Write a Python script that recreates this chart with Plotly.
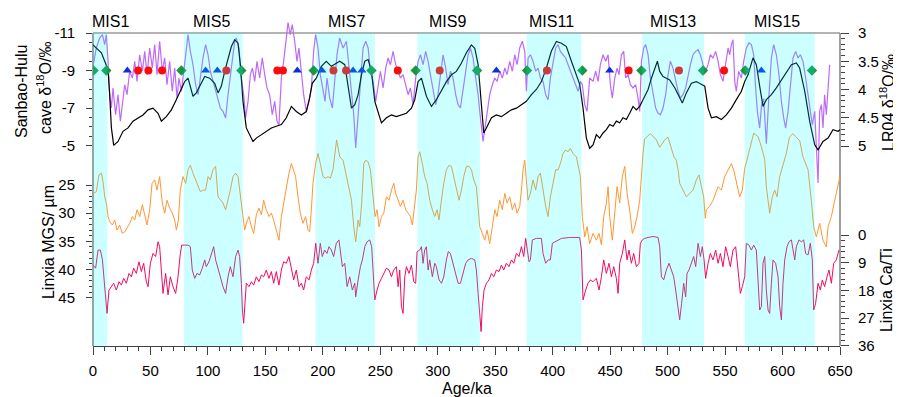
import plotly.graph_objects as go

# ---------------- data ----------------
# LR04 benthic d18O (per mil)
lr04_age = [0.0, 2.9, 7.3, 10.2, 13.1, 14.5, 16.0, 18.0, 21.8, 26.1,
            30.5, 34.8, 39.2, 43.5, 47.9, 52.2, 56.6, 59.5, 63.8, 68.2,
            72.5, 76.9, 79.8, 82.7, 87.0, 89.9, 94.3, 97.2, 101.5, 105.9,
            108.8, 111.7, 114.6, 117.5, 120.4, 123.3, 126.2, 128.2, 130.5, 133.4,
            136.3, 139.2, 142.1, 146.5, 150.8, 155.2, 159.5, 163.9, 168.2, 172.6,
            176.9, 181.3, 185.6, 188.5, 190.8, 194.3, 198.7, 203.0, 207.4, 211.7,
            214.7, 219.1, 222.0, 224.9, 227.8, 230.7, 233.6, 236.5, 239.4, 242.3,
            245.2, 248.1, 251.0, 255.3, 259.7, 264.0, 268.4, 272.7, 277.1, 280.0,
            282.9, 285.8, 290.1, 294.5, 298.8, 303.2, 307.5, 311.9, 316.2, 320.6,
            324.9, 329.3, 332.2, 335.1, 338.0, 340.0, 342.3, 346.7, 351.0, 355.4,
            359.7, 364.1, 368.4, 372.8, 377.1, 381.5, 385.8, 390.2, 394.5, 398.9,
            403.2, 407.6, 411.9, 416.3, 420.6, 423.5, 426.4, 429.3,
            432.2, 435.1, 438.0, 440.9, 443.8, 446.7, 449.6, 452.5, 455.4, 458.3,
            461.2, 464.1, 467.0, 469.9, 472.8, 475.7, 478.6, 483.0, 485.9, 488.8,
            491.1, 493.1, 496.0, 498.9, 501.8, 506.2, 509.1, 512.8, 516.3, 520.7,
            525.0, 529.4, 532.3, 535.2, 538.1, 542.4, 546.8, 551.1, 555.5, 559.8,
            564.2, 567.1, 570.0, 574.3, 577.2, 580.1, 583.0, 585.9, 590.3, 594.6,
            599.0, 603.3, 607.7, 612.0, 614.9, 619.3, 623.6, 628.0, 630.9, 635.2,
            639.6, 643.9, 648.3, 650.0]
lr04_val = [3.21, 3.27, 3.35, 3.50, 3.65, 4.09, 4.68, 4.99, 4.92, 4.74,
            4.68, 4.56, 4.50, 4.45, 4.36, 4.33, 4.42, 4.56, 4.48, 4.36,
            4.18, 3.97, 3.86, 3.80, 4.12, 4.06, 3.89, 3.77, 3.80, 3.89,
            4.06, 3.94, 3.68, 3.44, 3.24, 3.12, 3.18, 3.56, 4.21, 4.68,
            4.80, 4.92, 4.86, 4.80, 4.74, 4.68, 4.65, 4.62, 4.50, 4.30,
            4.39, 4.45, 4.39, 4.15, 3.89, 3.80, 3.59, 3.50, 3.59, 3.53,
            3.50, 3.56, 3.97, 4.33, 4.27, 4.09, 3.74, 3.50, 3.47, 3.68,
            4.21, 4.39, 4.59, 4.50, 4.45, 4.48, 4.45, 4.42, 4.33, 4.18,
            3.86, 3.80, 4.12, 4.30, 4.18, 4.03, 3.86, 3.74, 3.68, 3.53,
            3.35, 3.21, 3.27, 3.56, 4.27, 4.77, 4.68, 4.50, 4.45, 4.48,
            4.42, 4.36, 4.33, 4.27, 4.21, 4.09, 4.00, 3.86, 3.62, 3.32,
            3.15, 3.18, 3.24, 3.50, 3.77, 3.91, 4.33, 4.86,
            5.04, 4.98, 4.80, 4.86, 4.77, 4.71, 4.62, 4.65, 4.56, 4.59,
            4.50, 4.53, 4.42, 4.30, 4.36, 4.30, 4.18, 4.00, 3.80, 3.62,
            3.50, 3.68, 3.77, 3.80, 3.83, 3.97, 4.09, 4.24, 4.06, 3.89,
            3.86, 3.91, 3.94, 4.33, 4.50, 4.48, 4.53, 4.45, 4.33, 4.18,
            4.03, 3.86, 3.74, 3.44, 3.56, 3.94, 4.30, 4.18, 4.09, 3.97,
            3.83, 3.71, 3.56, 3.53, 3.62, 4.03, 4.56, 4.98, 5.07, 4.92,
            4.86, 4.71, 4.74, 4.71]

# Sanbao-Hulu cave d18O (per mil)
cave_age = [0.3, 2.9, 5.8, 8.2, 10.2, 11.6, 13.1, 14.5, 16.0, 17.4,
            19.7, 21.8, 23.8, 25.6, 27.6, 29.6, 31.9, 34.3, 36.3, 38.3,
            40.6, 43.0, 45.0, 47.0, 49.3, 51.6, 53.7, 55.7, 58.0, 60.3,
            62.4, 64.4, 66.7, 69.0, 71.1, 73.1, 74.8, 76.9, 78.9, 81.2,
            82.7, 84.7, 87.0, 89.3, 91.4, 93.4, 95.7, 98.0, 100.1, 102.1,
            104.4, 106.7, 108.8, 110.8, 113.1, 115.4, 117.5, 119.5, 121.3, 123.3,
            124.7, 127.0, 129.1, 131.1, 132.8, 134.9, 136.9, 138.7, 140.7, 142.7,
            145.0, 147.3, 149.4, 151.4, 153.7, 156.0, 158.1, 160.1, 161.8, 163.9,
            165.9, 167.6, 169.7, 171.7, 173.4, 175.5, 177.5, 179.2, 181.3, 183.3,
            185.6, 187.9, 190.0, 192.0, 193.7, 195.8, 197.8, 200.1, 201.9, 203.6,
            206.0, 208.3, 210.3, 212.3, 214.6, 217.6, 220.5, 222.8, 224.9, 226.9,
            228.6, 230.7, 232.7, 235.0, 237.3, 239.4, 241.4, 243.7, 246.0, 248.1,
            250.1, 252.4, 254.7, 256.8, 258.8, 261.1, 263.4, 265.5, 267.5, 269.8,
            272.1, 274.2, 276.2, 278.5, 280.8, 282.9, 284.9, 287.2, 289.5, 291.6,
            293.6, 295.9, 298.2, 300.2, 302.3, 304.6, 306.9, 308.9, 311.0, 313.3,
            315.6, 317.7, 319.7, 322.0, 324.3, 326.4, 328.4, 330.7, 333.0, 335.1,
            336.5, 338.0, 339.4, 341.1, 342.9, 345.2, 347.5, 349.6, 351.6, 353.9,
            356.2, 358.3, 360.3, 362.6, 364.9, 367.0, 369.0, 371.3, 373.6, 375.7,
            377.1, 378.6, 380.6, 382.9, 385.2, 387.3, 389.3, 391.6, 393.9, 396.0,
            398.0, 400.3, 402.6, 404.7, 406.7, 409.0, 411.3, 413.4, 415.4, 417.7,
            420.0, 422.1, 424.1, 425.8, 427.9, 429.9, 432.2, 435.1, 437.4, 439.5,
            441.5, 443.8, 446.1, 448.2, 450.2, 451.9, 454.0, 456.0, 457.7, 459.8,
            461.8, 463.5, 465.6, 467.6, 469.9, 472.2, 474.2, 475.7, 477.2, 479.2,
            480.9, 483.0, 485.0, 487.3, 489.6, 491.6, 493.7, 496.0, 498.3, 500.4,
            502.4, 504.7, 507.0, 509.1, 511.1, 513.4, 515.7, 517.8, 519.8, 522.1,
            524.4, 526.5, 528.5, 530.8, 533.1, 535.2, 537.2, 539.5, 541.8, 543.9,
            545.9, 548.2, 550.5, 552.6, 554.0, 555.5, 556.9, 558.4, 559.8, 561.8,
            564.2, 566.2, 568.5, 570.8, 572.9, 574.9, 576.6, 578.1, 580.1, 581.8,
            583.6, 585.9, 588.2, 590.3, 592.3, 594.6, 596.9, 599.0, 601.0, 602.7,
            604.8, 606.8, 609.1, 611.4, 613.5, 615.5, 617.8, 620.1, 622.2, 624.2,
            625.9, 628.0, 629.4, 630.9, 632.3, 633.8, 635.2, 636.6, 638.1, 639.6,
            641.0]
cave_val = [-9.31, -10.20, -10.73, -10.91, -10.38, -10.91, -9.49, -7.71, -7.00, -8.07,
            -6.64, -7.71, -6.29, -7.35, -8.24, -7.71, -8.96, -8.60, -9.49, -8.42,
            -9.84, -8.96, -10.02, -8.78, -10.20, -9.13, -10.38, -8.78, -10.56, -8.96,
            -9.67, -8.24, -9.49, -7.89, -9.13, -7.53, -8.60, -7.89, -8.96, -10.20,
            -10.91, -10.02, -9.31, -8.24, -7.71, -8.60, -9.67, -10.38, -9.84, -8.96,
            -8.42, -7.89, -7.35, -7.00, -6.82, -6.47, -7.71, -8.78, -9.67, -10.56,
            -10.73, -10.20, -8.60, -7.71, -6.47, -7.35, -8.78, -9.13, -8.42, -9.49,
            -8.60, -9.67, -8.78, -8.07, -7.71, -6.64, -7.35, -6.29, -6.11, -8.60,
            -9.49, -10.56, -11.55, -10.91, -11.45, -10.56, -9.49, -10.20, -8.96, -7.71,
            -6.82, -7.35, -8.07, -10.02, -10.91, -10.20, -8.78, -8.07, -7.35, -8.60,
            -7.53, -7.00, -8.60, -9.84, -10.73, -10.20, -10.56, -9.13, -7.71, -6.64,
            -4.87, -6.82, -8.60, -10.20, -10.56, -10.20, -8.96, -8.42, -7.35, -8.24,
            -8.96, -8.07, -9.13, -9.67, -9.31, -10.02, -9.31, -8.96, -8.60, -8.78,
            -8.24, -7.71, -8.07, -7.18, -8.60, -9.49, -9.84, -9.31, -10.02, -9.49,
            -8.78, -8.07, -7.18, -7.71, -8.78, -9.84, -9.13, -8.24, -8.96, -8.60,
            -7.71, -7.18, -7.00, -8.07, -9.13, -9.84, -10.20, -9.67, -8.60, -7.71,
            -6.82, -6.11, -5.22, -5.93, -6.82, -7.71, -8.24, -8.60, -8.42, -8.96,
            -8.60, -9.13, -8.78, -9.49, -8.96, -9.84, -9.31, -10.20, -10.56, -10.02,
            -7.89, -9.67, -9.84, -9.49, -8.96, -9.13, -8.60, -8.42, -7.71, -7.44,
            -8.60, -9.49, -10.20, -10.38, -10.02, -9.84, -9.67, -9.31, -8.96, -8.60,
            -8.24, -7.89, -8.42, -8.24, -7.18, -6.82, -8.60, -8.42, -8.96, -8.42,
            -9.31, -9.84, -9.49, -9.84, -8.24, -7.53, -8.60, -9.13, -8.78, -9.84,
            -10.02, -8.60, -8.78, -8.24, -8.07, -8.24, -7.53, -6.82, -9.49, -10.20,
            -10.38, -9.84, -8.60, -7.71, -7.00, -6.73, -6.64, -7.00, -7.71, -8.78,
            -9.49, -9.13, -8.42, -7.89, -7.53, -7.71, -8.07, -8.78, -9.31, -9.84,
            -10.02, -10.11, -9.84, -9.31, -8.96, -9.31, -9.84, -9.67, -10.02, -9.49,
            -8.78, -8.42, -9.49, -10.20, -9.84, -10.38, -10.64, -8.42, -7.89, -8.96,
            -8.60, -9.49, -10.20, -10.47, -10.38, -9.84, -8.07, -6.82, -5.93, -7.18,
            -7.50, -5.10, -7.71, -9.67, -10.38, -9.84, -8.78, -7.35, -6.47, -5.93,
            -6.82, -8.24, -9.67, -10.02, -9.67, -9.84, -9.49, -8.60, -7.71, -7.00,
            -6.11, -6.82, -5.22, -3.00, -6.82, -7.18, -5.93, -7.71, -6.64, -8.07,
            -9.31]

# Linxia mean grain size (um)
mgs_age = [0.0, 2.9, 5.2, 7.3, 8.7, 10.2, 11.6, 13.1, 14.5, 16.9,
           18.9, 20.9, 23.2, 25.5, 27.6, 29.6, 31.9, 34.3, 36.3, 38.3,
           40.6, 43.0, 45.0, 47.0, 49.3, 51.4, 53.7, 55.7, 58.0, 60.3,
           62.4, 64.4, 66.7, 69.0, 71.1, 72.5, 74.3, 76.0, 78.3, 80.6,
           82.7, 84.7, 87.0, 89.3, 91.4, 93.4, 95.7, 98.0, 100.1, 102.1,
           104.4, 106.7, 108.8, 110.8, 113.1, 115.4, 117.5, 119.5, 121.8, 124.1,
           126.2, 128.2, 130.5, 132.0, 133.4, 135.7, 137.8, 139.8, 142.1, 144.4,
           146.5, 148.5, 150.8, 153.1, 155.2, 157.2, 159.5, 161.8, 163.9, 165.9,
           168.2, 170.5, 172.6, 174.6, 176.3, 178.4, 180.4, 182.7, 185.0, 187.1,
           188.5, 190.0, 191.4, 193.7, 195.8, 197.8, 200.1, 202.4, 204.5, 206.5,
           208.8, 212.0, 214.7, 217.6, 220.5, 222.8, 224.9, 226.9, 228.6, 230.7,
           232.1, 233.8, 235.6, 237.3, 239.4, 241.4, 243.7, 245.4, 247.2, 248.9,
           251.0, 253.0, 255.3, 257.6, 259.7, 261.7, 263.4, 265.5, 267.5, 269.8,
           272.1, 274.2, 276.2, 277.9, 280.0, 281.4, 282.9, 284.3, 286.6, 288.6,
           290.7, 293.0, 295.3, 297.4, 299.4, 301.1, 303.2, 305.2, 307.5, 309.8,
           311.9, 313.9, 316.2, 318.5, 320.6, 322.6, 324.9, 327.2, 329.3, 331.3,
           333.6, 335.1, 336.5, 338.8, 340.9, 342.9, 345.2, 347.5, 349.6, 351.6,
           353.9, 356.2, 358.3, 360.3, 362.6, 364.9, 367.0, 369.0, 371.3, 372.8,
           374.2, 375.7, 377.1, 378.5, 380.6, 382.9, 385.2, 387.3, 389.3, 391.6,
           393.9, 396.0, 398.0, 400.3, 402.6, 404.7, 406.7, 409.0, 411.3, 413.4,
           415.4, 417.7, 420.6, 422.9, 424.1, 425.8, 427.9, 429.9, 432.2, 435.1,
           438.0, 440.3, 442.4, 444.4, 446.7, 448.2, 449.6, 451.9, 454.0, 456.0,
           458.3, 460.6, 462.7, 464.7, 467.0, 469.3, 471.4, 473.4, 475.7, 477.2,
           478.6, 480.0, 482.5, 485.0, 488.0, 490.2, 493.1, 495.5, 497.4, 500.3,
           503.2, 505.5, 507.5, 509.1, 510.5, 513.4, 516.3, 519.2, 522.1, 525.0,
           527.3, 529.4, 531.4, 532.8, 533.7, 536.6, 539.5, 543.9, 546.8, 549.7,
           552.6, 555.5, 557.5, 559.8, 562.7, 565.0, 567.1, 568.5, 571.4, 574.9,
           578.7, 581.6, 584.5, 585.9, 588.8, 591.1, 593.2, 595.2, 597.5, 600.4,
           603.3, 606.0, 609.0, 612.0, 615.0, 617.8, 620.0, 622.2, 625.0, 627.1,
           629.4, 632.3, 635.2, 638.1, 639.6, 642.5, 645.4, 646.8, 648.3, 650.0]
mgs_val = [26.5, 26.2, 23.2, 22.9, 24.4, 27.1, 28.2, 30.6, 31.5, 32.1,
           31.2, 33.0, 32.1, 33.6, 33.3, 32.7, 31.8, 30.6, 31.2, 29.4,
           30.6, 28.5, 30.3, 32.1, 29.4, 24.7, 24.1, 25.9, 23.5, 28.2,
           30.0, 27.7, 29.1, 30.0, 31.2, 33.0, 31.2, 25.9, 23.5, 24.7,
           22.3, 21.5, 22.9, 24.1, 25.3, 26.2, 25.9, 25.9, 23.5, 24.1,
           22.3, 21.7, 27.1, 27.7, 28.2, 29.4, 27.7, 25.9, 23.5, 22.9,
           23.5, 27.1, 30.6, 33.0, 31.8, 30.6, 32.4, 33.6, 30.3, 29.1,
           30.3, 27.7, 29.4, 30.6, 30.0, 31.2, 33.0, 34.8, 30.6, 28.2,
           25.9, 22.9, 21.2, 22.3, 23.5, 27.1, 30.0, 31.8, 30.6, 33.0,
           33.3, 29.4, 24.7, 21.2, 19.4, 21.2, 23.5, 23.8, 23.5, 23.8,
           22.3, 17.0, 20.0, 20.6, 23.5, 25.9, 27.7, 32.4, 35.1, 31.2,
           32.4, 28.2, 21.2, 20.6, 20.9, 22.3, 27.7, 30.6, 29.4, 32.4,
           30.6, 30.0, 27.1, 27.7, 25.9, 24.7, 26.5, 27.7, 28.8, 27.7,
           29.4, 30.0, 30.6, 32.1, 28.8, 25.9, 20.0, 19.1, 21.2, 23.5,
           24.7, 27.7, 29.4, 30.6, 29.4, 31.2, 27.7, 24.7, 22.3, 21.5,
           21.7, 23.5, 25.9, 27.7, 25.9, 23.5, 21.7, 21.7, 22.3, 24.1,
           25.3, 28.8, 32.4, 33.6, 34.8, 33.0, 35.4, 32.4, 29.4, 30.6,
           27.7, 29.4, 26.5, 28.2, 27.1, 29.4, 28.2, 30.0, 28.8, 25.9,
           22.3, 20.6, 24.7, 27.7, 26.5, 24.1, 25.9, 23.5, 22.9, 25.9,
           28.8, 30.6, 27.1, 24.7, 22.3, 22.3, 21.2, 19.4, 18.8, 19.1,
           18.5, 19.4, 20.0, 22.3, 23.5, 30.6, 34.2, 32.4, 35.4, 33.6,
           34.8, 33.6, 35.6, 30.6, 28.2, 25.3, 30.6, 34.8, 29.4, 25.3,
           28.2, 23.5, 21.7, 26.5, 29.4, 33.6, 32.4, 30.6, 27.7, 22.3,
           19.4, 16.8, 16.3, 15.9, 16.5, 17.0, 18.3, 17.5, 17.0, 16.5,
           18.3, 20.0, 20.6, 22.3, 24.7, 25.9, 27.1, 26.5, 25.9, 24.1,
           23.2, 25.3, 27.1, 30.9, 29.4, 28.8, 27.7, 25.3, 25.9, 23.5,
           22.3, 21.2, 22.3, 24.7, 27.1, 25.9, 22.0, 21.0, 18.8, 15.8,
           16.4, 18.2, 20.5, 25.3, 30.0, 27.1, 25.9, 27.1, 23.5, 21.2,
           19.4, 16.5, 15.9, 16.5, 17.2, 20.0, 21.0, 22.3, 27.7, 32.4,
           34.2, 31.8, 34.8, 36.0, 32.4, 30.6, 27.7, 26.5, 24.7, 23.5]

# Linxia Ca/Ti
cati_age = [0.0, 2.3, 4.4, 6.4, 8.2, 10.2, 12.2, 13.9, 16.0, 18.0,
            20.3, 22.6, 24.7, 26.7, 29.0, 31.3, 33.4, 35.4, 37.7, 40.0,
            42.1, 44.1, 46.4, 47.9, 49.9, 52.2, 54.5, 56.6, 58.0, 59.5,
            60.9, 63.2, 65.3, 67.3, 69.6, 71.9, 74.0, 76.0, 77.2, 79.8,
            82.7, 84.7, 86.4, 88.5, 90.5, 92.8, 95.1, 97.2, 98.6, 100.9,
            103.0, 105.0, 106.7, 108.8, 110.8, 113.1, 115.4, 117.5, 119.5, 121.8,
            124.1, 126.2, 127.6, 129.1, 130.0, 131.1, 132.3, 133.4, 135.8, 137.8,
            139.8, 142.1, 144.4, 146.5, 148.5, 150.8, 153.1, 155.2, 157.2, 159.5,
            161.8, 163.9, 165.9, 168.2, 170.5, 172.6, 174.6, 176.9, 179.2, 181.3,
            183.3, 185.6, 188.0, 190.0, 192.0, 193.8, 195.8, 197.8, 199.5, 201.6,
            203.6, 205.3, 207.4, 209.4, 211.7, 214.0,
            217.0, 219.1, 221.1, 223.4, 225.7, 227.8, 228.6, 230.7, 232.7, 234.4,
            236.5, 238.5, 240.8, 242.5, 243.7, 245.2, 247.2, 248.9, 251.0, 253.0,
            255.3, 257.6, 259.7, 261.7, 264.0, 265.5, 266.9, 268.4, 269.8, 271.3,
            272.7, 275.0, 277.1, 279.1, 280.8, 282.0, 284.3, 285.8, 287.2, 288.6,
            290.1, 291.6, 293.0, 295.3, 297.4, 298.8, 301.1, 303.2, 305.2, 307.5,
            309.2, 311.0, 313.3, 315.6, 317.7, 319.7, 322.0, 324.3, 326.4, 329.3,
            332.2, 333.6, 335.1, 336.5, 337.7, 338.8, 340.3, 342.3, 344.6, 346.7,
            348.7, 351.0, 353.3, 355.4, 357.4, 359.7, 362.0, 364.1, 366.1, 368.4,
            370.7, 372.8, 374.8, 376.5, 377.7, 379.4, 380.6, 382.3, 385.8, 390.2,
            391.6, 393.9, 396.0, 398.0, 399.7, 401.8, 404.7, 407.6, 414.8, 423.5,
            425.0, 426.4, 428.7, 430.8, 432.8,
            435.1, 438.0, 440.3, 442.4, 444.4, 446.7, 449.0, 451.1, 453.1, 455.4,
            456.9, 458.3, 460.6, 462.7, 464.7, 466.4, 468.5, 470.5, 472.8, 475.1,
            476.3, 478.0, 480.1, 483.0, 487.3, 491.7, 493.1, 494.6, 496.6, 498.9,
            501.2, 503.3, 505.3, 507.0, 509.1, 510.5, 512.2, 514.0, 515.7, 516.9,
            518.6, 520.7, 522.7, 524.4, 526.5, 528.5, 530.2, 531.7, 533.1, 535.2,
            537.2, 539.5, 541.8, 543.9, 545.9, 548.2, 550.5, 552.6, 554.6, 556.9,
            559.2, 561.3, 563.3, 565.0, 567.1, 568.5, 570.8, 572.9, 574.9, 577.2,
            578.7, 580.1, 581.6, 583.0, 584.5, 585.9, 587.4, 588.8, 590.3, 591.7,
            594.0, 596.1, 597.5, 599.0, 600.4, 601.9, 603.9, 605.6, 607.7, 609.1,
            610.6, 612.0, 614.3, 616.4, 618.4, 620.1, 622.2, 624.2, 625.9, 627.1,
            628.8, 630.9, 632.9, 634.6, 636.6, 638.7, 640.4, 642.5, 644.5, 646.8,
            649.1]
cati_val = [9.8, 10.8, 4.9, 4.9, 8.1, 17.9, 25.5, 17.9, 16.8, 15.7,
            17.9, 15.2, 16.3, 14.1, 15.7, 12.5, 13.6, 10.8, 12.5, 8.7,
            11.9, 9.2, 15.2, 16.8, 9.2, 6.0, 7.0, 2.2, 3.8, 11.4,
            19.0, 12.5, 19.5, 13.6, 16.8, 19.0, 13.6, 6.0, 3.3, 3.3,
            3.3, 3.8, 11.4, 14.1, 12.5, 13.0, 10.8, 8.1, 10.3, 8.7,
            6.0, 3.8, 8.1, 11.4, 13.6, 16.8, 19.0, 13.6, 10.3, 13.6,
            7.0, 4.9, 7.0, 15.7, 24.4, 28.7, 21.1, 15.7, 16.8, 15.2,
            16.3, 13.6, 15.2, 13.0, 13.6, 11.4, 14.1, 11.9, 15.7, 11.9,
            16.3, 11.4, 8.7, 9.2, 7.0, 11.4, 14.6, 11.4, 16.8, 15.7,
            17.9, 13.6, 14.6, 11.4, 9.2, 2.7, 9.2, 2.7, 7.0, 4.9,
            6.0, 3.8, 4.9, 7.0, 2.7, 1.6,
            10.3, 9.2, 16.8, 13.6, 17.9, 15.7, 20.1, 14.6, 10.3, 8.1,
            3.8, 2.2, 1.6, 3.8, 13.6, 21.1, 17.9, 15.7, 14.1, 12.5,
            10.8, 11.4, 13.6, 11.4, 10.3, 16.8, 11.4, 23.3, 25.5, 13.6,
            10.3, 12.5, 9.8, 15.2, 15.7, 5.4, 4.9, 3.8, 9.2, 4.9,
            3.8, 11.4, 8.1, 13.6, 9.2, 10.3, 14.6, 15.7, 13.6, 8.1,
            5.4, 6.0, 9.2, 12.5, 15.7, 15.7, 12.5, 9.2, 8.1, 7.6,
            8.1, 11.4, 19.0, 25.5, 31.4, 23.3, 17.9, 15.7, 14.6, 12.5,
            13.6, 11.4, 11.9, 9.8, 11.4, 9.2, 10.3, 8.1, 9.2, 6.0,
            7.0, 3.8, 7.0, 1.1, 3.8, 8.7, 8.1, 1.6, 1.1, 1.1,
            6.0, 9.2, 8.1, 8.1, 2.7, 2.2, 1.6, 1.1, 0.8, 0.8,
            4.9, 21.1, 17.9, 15.7, 14.6,
            15.2, 14.1, 17.9, 13.6, 8.1, 12.5, 9.2, 13.6, 10.3, 14.1,
            19.0, 9.2, 6.0, 1.6, 8.1, 4.9, 9.2, 6.0, 10.3, 9.2,
            2.7, 1.6, 1.1, 0.8, 0.5, 0.8, 3.8, 13.6, 14.6, 11.4,
            9.2, 11.4, 13.6, 17.9, 24.4, 27.6, 22.2, 15.7, 20.1, 12.5,
            11.4, 9.2, 7.0, 10.3, 2.7, 7.0, 3.8, 8.1, 14.1, 9.2,
            6.0, 8.1, 4.9, 9.2, 6.0, 10.3, 3.8, 7.0, 10.3, 4.9,
            3.8, 11.4, 19.0, 16.8, 13.6, 2.7, 3.3, 4.9, 3.3, 4.9,
            13.6, 24.4, 23.3, 9.2, 7.0, 17.9, 24.4, 25.5, 15.7, 8.1,
            9.2, 13.6, 23.3, 27.6, 15.7, 8.1, 3.8, 2.2, 1.6, 4.9,
            8.1, 3.8, 1.6, 2.2, 1.6, 6.0, 6.5, 2.7, 8.1, 24.4,
            22.2, 15.7, 17.9, 14.6, 16.8, 13.6, 11.4, 15.7, 9.2, 8.1,
            4.9]

# event markers (age, ka) plotted at -9 on the cave axis
green_age = [0.5, 11.6, 76.9, 129.1, 192.0, 242.3, 280.8, 334.2, 377.7, 425.8,
             477.2, 530.8, 567.6, 625.6]
blue_age = [29.9, 98.0, 108.2, 177.8, 199.2, 226.3, 233.9, 351.0, 449.6, 581.6]
red_age = [39.2, 48.2, 60.1, 116.0, 160.4, 165.3, 209.2, 220.2, 265.2, 301.7,
           395.0, 466.1, 509.9, 549.1]
marker_level = -9

# interglacial bands
mis_labels = ["MIS1", "MIS5", "MIS7", "MIS9", "MIS11", "MIS13", "MIS15"]
mis_start = [0, 79, 193.7, 282.3, 377.3, 477.8, 567.1]
mis_end = [12.5, 130.2, 245.3, 336.6, 425.0, 531.8, 628.0]
mis_label_x = [15.4, 103, 220.7, 308.7, 399, 505, 595]

# ---------------- figure ----------------
FONT = "Liberation Sans, Arial, sans-serif"
AX = "#404040"

CAVE_RANGE = [5.693, -11.8]
LR_RANGE = [8.540, 2.7345]
MGS_RANGE = [53.571, -4.636]
CATI_RANGE = [36.1, -70.57]

fig = go.Figure()
fig.add_trace(go.Scatter(x=cave_age, y=cave_val, mode="lines",
                         line=dict(color="rgb(190,105,250)", width=1.2),
                         yaxis="y", showlegend=False))
fig.add_trace(go.Scatter(x=lr04_age, y=lr04_val, mode="lines",
                         line=dict(color="black", width=1.2),
                         yaxis="y2", showlegend=False))
fig.add_trace(go.Scatter(x=mgs_age, y=mgs_val, mode="lines",
                         line=dict(color="rgb(255,150,50)", width=1),
                         yaxis="y3", showlegend=False))
fig.add_trace(go.Scatter(x=cati_age, y=cati_val, mode="lines",
                         line=dict(color="rgb(240,10,100)", width=1),
                         yaxis="y4", showlegend=False))
fig.add_trace(go.Scatter(x=green_age, y=[marker_level] * len(green_age), mode="markers",
                         marker=dict(symbol="diamond", size=8, color="#1a9641"),
                         yaxis="y5", showlegend=False))
fig.add_trace(go.Scatter(x=blue_age, y=[marker_level] * len(blue_age), mode="markers",
                         marker=dict(symbol="triangle-up", size=8, color="#0a2ee0"),
                         yaxis="y5", showlegend=False))
fig.add_trace(go.Scatter(x=red_age, y=[marker_level] * len(red_age), mode="markers",
                         marker=dict(symbol="circle", size=8, color="#ff0a0a"),
                         yaxis="y5", showlegend=False))

tickfont = dict(family=FONT, size=15, color="black")

def minor_vals(a, b, step, major):
    out = []
    v = a
    while v <= b + 1e-9:
        if all(abs(v - m) > 1e-6 for m in major):
            out.append(round(v, 4))
        v += step
    return out

cave_ticks = [-11, -9, -7, -5]
lr_ticks = [3, 3.5, 4, 4.5, 5]
mgs_ticks = [25, 30, 35, 40, 45]
cati_ticks = [0, 9, 18, 27, 36]
x_ticks = list(range(0, 651, 50))

common = dict(showgrid=False, zeroline=False, showline=False, ticks="outside",
              tickcolor=AX, tickwidth=1, tickfont=tickfont, fixedrange=True)

# the page body adds an 8 px offset, so the figure is 8 px smaller on each
# axis and its margins are shifted accordingly
fig.update_layout(
    width=893, height=389,
    margin=dict(l=85, r=61, t=10, b=51, autoexpand=False),
    paper_bgcolor="white", plot_bgcolor="white",
    font=dict(family=FONT, color="black"),
    xaxis=dict(range=[0, 650], showgrid=False, zeroline=False, showline=True,
               linecolor=AX, linewidth=1, ticks="outside", ticklen=8, tickcolor=AX,
               tickvals=x_ticks, tickfont=tickfont, ticklabelstandoff=3,
               minor=dict(tickmode="array", tickvals=[v for v in range(10, 650, 10) if v % 50],
                          ticks="outside", ticklen=4, tickcolor=AX)),
    yaxis=dict(range=CAVE_RANGE, tickvals=cave_ticks, ticktext=[str(v) for v in cave_ticks],
               ticklen=6, ticklabelstandoff=8,
               minor=dict(tickmode="array", tickvals=minor_vals(-11, -5, 0.5, cave_ticks),
                          ticks="outside", ticklen=3, tickcolor=AX), **common),
    yaxis2=dict(range=LR_RANGE, overlaying="y", side="right", anchor="x",
                tickvals=lr_ticks, ticktext=["3", "3.5", "4", "4.5", "5"],
                ticklen=8, ticklabelstandoff=6,
                minor=dict(tickmode="array", tickvals=minor_vals(3, 5, 0.1, lr_ticks),
                           ticks="outside", ticklen=4, tickcolor=AX), **common),
    yaxis3=dict(range=MGS_RANGE, overlaying="y", side="left", anchor="x",
                tickvals=mgs_ticks, ticklen=6, ticklabelstandoff=8,
                minor=dict(tickmode="array", tickvals=minor_vals(25, 45, 1, mgs_ticks),
                           ticks="outside", ticklen=3, tickcolor=AX), **common),
    yaxis4=dict(range=CATI_RANGE, overlaying="y", side="right", anchor="x",
                tickvals=cati_ticks, ticklen=8, ticklabelstandoff=6,
                minor=dict(tickmode="array", tickvals=minor_vals(0, 36, 1.8, cati_ticks),
                           ticks="outside", ticklen=4, tickcolor=AX), **common),
    yaxis5=dict(range=CAVE_RANGE, overlaying="y", visible=False, fixedrange=True),
)

shapes = [
    dict(type="line", xref="paper", x0=0, x1=0, yref="y", y0=-11, y1=CAVE_RANGE[0],
         line=dict(color=AX, width=1), layer="below"),
    dict(type="line", xref="paper", x0=1, x1=1, yref="y2", y0=3, y1=LR_RANGE[0],
         line=dict(color=AX, width=1), layer="below"),
    dict(type="line", xref="paper", x0=0, x1=1, yref="y", y0=-11, y1=-11,
         line=dict(color="#9a9a9a", width=1.3), layer="below"),
]
for s, e in zip(mis_start, mis_end):
    shapes.append(dict(type="rect", xref="x", x0=s, x1=e, yref="y", y0=-11, y1=CAVE_RANGE[0],
                       fillcolor="rgba(0,255,255,0.2)", line=dict(width=0), layer="above"))
fig.update_layout(shapes=shapes)

ann = []
for lab, xv in zip(mis_labels, mis_label_x):
    ann.append(dict(x=xv, y=-11.64, xref="x", yref="y", text=lab, showarrow=False,
                    xanchor="center", yanchor="middle",
                    font=dict(family=FONT, size=16, color="black")))
title_font = dict(family=FONT, size=16, color="black")
side_titles = [
    (-0.0964, 0.7774, "Sanbao-Hulu", -90),
    (-0.0656, 0.7896, "cave δ<sup>18</sup>O/‰", -90),
    (-0.0602, 0.317, "Linxia MGS/ µm", -90),
    (1.0629, 0.744, "LR04 δ<sup>18</sup>O/‰", -90),
    (1.0616, 0.1707, "Linxia Ca/Ti", -90),
    (0.5007, -0.131, "Age/ka", 0),
]
for xv, yv, txt, ang in side_titles:
    ann.append(dict(x=xv, y=yv, xref="paper", yref="paper", text=txt, textangle=ang,
                    xanchor="center", yanchor="middle", showarrow=False, font=title_font))
fig.update_layout(annotations=ann)

fig.write_html("out.html")
